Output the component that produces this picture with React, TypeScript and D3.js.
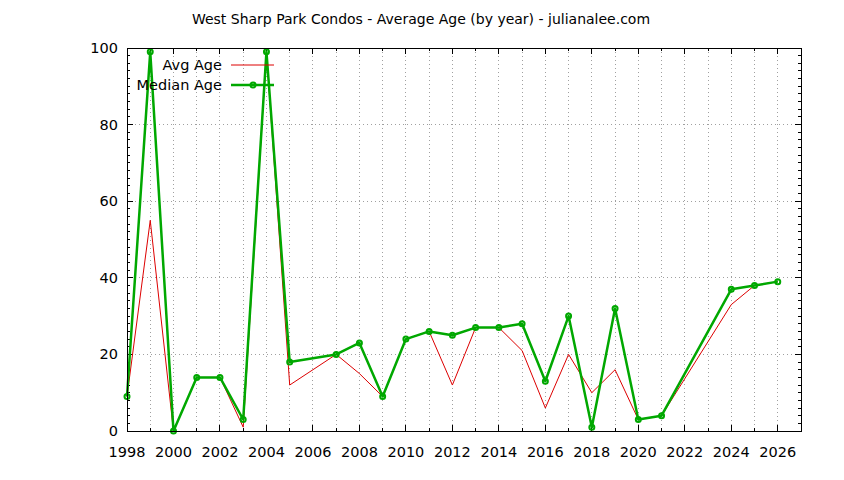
import * as d3 from "d3";
import React, { useEffect } from "react";

// years with data (2006, 2022, 2023 have no sales)
const YEARS = [1998, 1999, 2000, 2001, 2002, 2003, 2004, 2005, 2007, 2008, 2009, 2010, 2011, 2012, 2013, 2014, 2015, 2016, 2017, 2018, 2019, 2020, 2021, 2024, 2025, 2026];
const AVG_AGE = [9, 55, 0, 14, 14, 1, 99, 12, 20, 15, 9, 24, 26, 12, 27, 27, 21, 6, 20, 10, 16, 3, 4, 33, 38, 39];
const MEDIAN_AGE = [9, 99, 0, 14, 14, 3, 99, 18, 20, 23, 9, 24, 26, 25, 27, 27, 28, 13, 30, 1, 32, 3, 4, 37, 38, 39];
const X_LABELS = d3.range(1998, 2027, 2);
const Y_LABELS = [0, 20, 40, 60, 80, 100];

const TITLE = "West Sharp Park Condos - Average Age (by year) - julianalee.com";
const RED = "#dd0000";
const GREEN = "#00a800";
const FONT = "'DejaVu Sans', sans-serif";

export default function App() {
  useEffect(() => {
    document.body.style.margin = "0";
  }, []);

  const W = 844, H = 480;
  const m = { left: 127, right: 801, top: 48, bottom: 431 };

  const x = d3.scaleLinear().domain([1998, 2027]).range([m.left, m.right]);
  const y = d3.scaleLinear().domain([0, 100]).range([m.bottom, m.top]);

  const line = d3.line<[number, number]>()
    .x(d => x(d[0]))
    .y(d => y(d[1]));

  const avgPts: [number, number][] = YEARS.map((yr, i) => [yr, AVG_AGE[i]]);
  const medPts: [number, number][] = YEARS.map((yr, i) => [yr, MEDIAN_AGE[i]]);

  const xMinor = d3.range(1998, 2028, 1);
  const yMinor = d3.range(0, 101, 2);

  return (
    <svg width={W} height={H} style={{ display: "block", background: "#fff" }} fontFamily={FONT}>
      {/* title */}
      <text x={421} y={24} textAnchor="middle" fontSize={14} fill="#000">{TITLE}</text>

      {/* grid */}
      <g stroke="#a0a0a0" strokeWidth={1} strokeDasharray="1,3" shapeRendering="crispEdges">
        {xMinor.filter(v => v > 1998 && v < 2027).map(v => (
          <line key={"gx" + v} x1={x(v)} x2={x(v)} y1={m.top} y2={m.bottom} />
        ))}
        {Y_LABELS.filter(v => v > 0 && v < 100).map(v => (
          <line key={"gy" + v} x1={m.left} x2={m.right} y1={y(v)} y2={y(v)} />
        ))}
      </g>

      {/* ticks */}
      <g stroke="#000" strokeWidth={1} shapeRendering="crispEdges">
        {xMinor.map(v => {
          const len = (v - 1998) % 2 === 0 ? 6 : 3;
          return (
            <g key={"tx" + v}>
              <line x1={x(v)} x2={x(v)} y1={m.bottom} y2={m.bottom - len} />
              <line x1={x(v)} x2={x(v)} y1={m.top} y2={m.top + len} />
            </g>
          );
        })}
        {yMinor.map(v => {
          const len = v % 20 === 0 ? 6 : 3;
          return (
            <g key={"ty" + v}>
              <line x1={m.left} x2={m.left + len} y1={y(v)} y2={y(v)} />
              <line x1={m.right} x2={m.right - len} y1={y(v)} y2={y(v)} />
            </g>
          );
        })}
      </g>

      {/* tick labels */}
      <g fontSize={14.5} fill="#000">
        {X_LABELS.map(v => (
          <text key={"lx" + v} x={x(v)} y={m.bottom + 26} textAnchor="middle">{v}</text>
        ))}
        {Y_LABELS.map(v => (
          <text key={"ly" + v} x={m.left - 9} y={y(v) + 5} textAnchor="end">{v}</text>
        ))}
      </g>

      {/* series */}
      <path d={line(avgPts) ?? ""} fill="none" stroke={RED} strokeWidth={1} />
      <path d={line(medPts) ?? ""} fill="none" stroke={GREEN} strokeWidth={2.5} strokeLinejoin="round" />
      <g fill="none" stroke={GREEN} strokeWidth={2}>
        {medPts.map(d => (
          <circle key={"p" + d[0]} cx={x(d[0])} cy={y(d[1])} r={2.5} />
        ))}
      </g>

      {/* legend */}
      <g fontSize={14.5} fill="#000">
        <text x={222} y={70} textAnchor="end">Avg Age</text>
        <line x1={231} x2={274} y1={65} y2={65} stroke={RED} strokeWidth={1} />
        <text x={222} y={90} textAnchor="end">Median Age</text>
        <line x1={231} x2={274} y1={85} y2={85} stroke={GREEN} strokeWidth={2.5} />
        <circle cx={253} cy={85} r={2.5} fill="none" stroke={GREEN} strokeWidth={2} />
      </g>

      {/* border */}
      <rect x={m.left} y={m.top} width={m.right - m.left} height={m.bottom - m.top}
        fill="none" stroke="#000" strokeWidth={1} shapeRendering="crispEdges" />
    </svg>
  );
}
